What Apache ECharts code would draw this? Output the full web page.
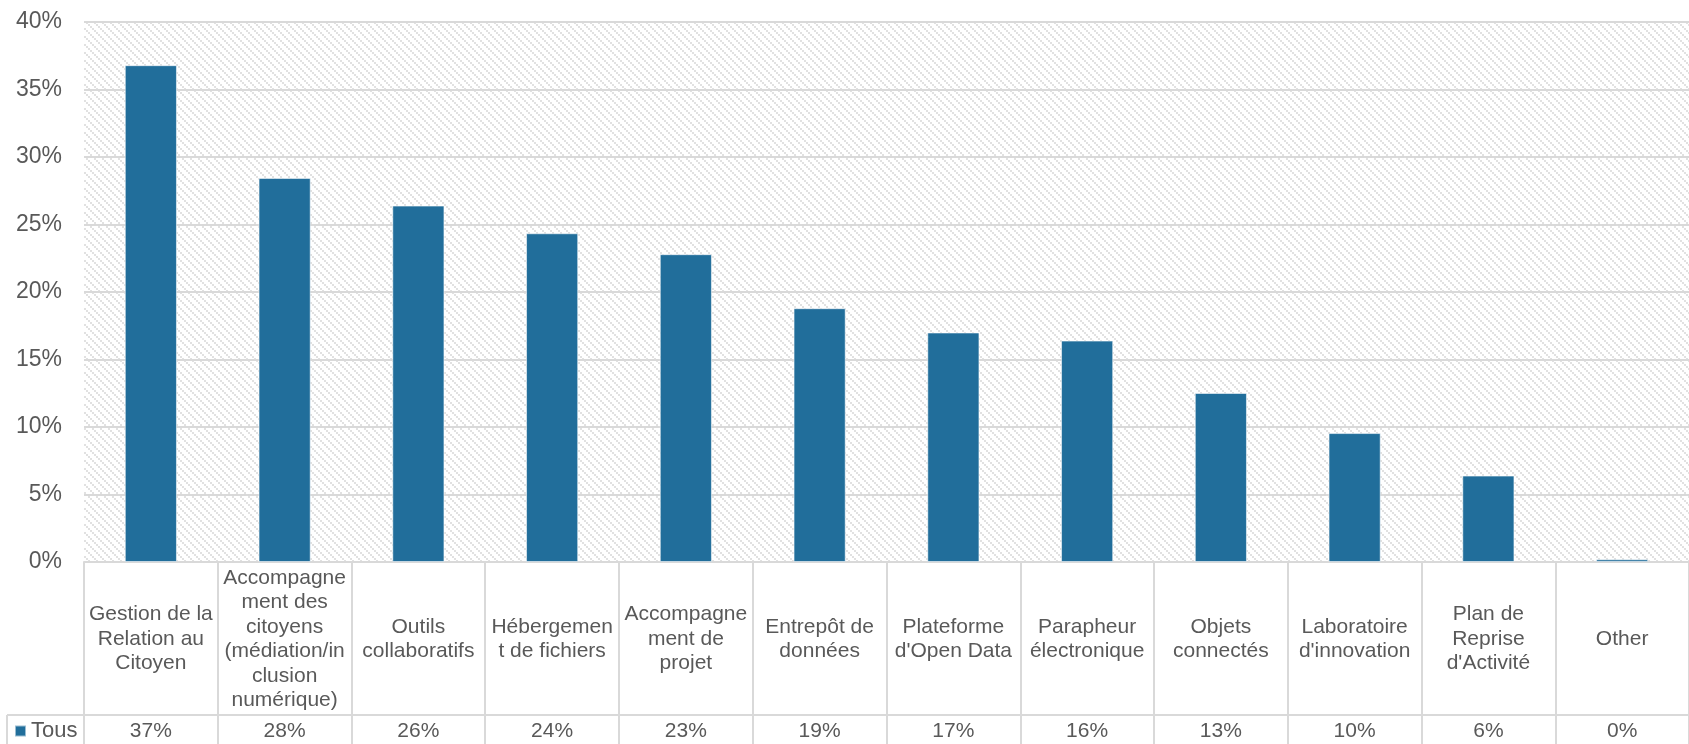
<!DOCTYPE html>
<html>
<head>
<meta charset="utf-8">
<script src="https://cdn.jsdelivr.net/npm/echarts@6/dist/echarts.min.js"></script>
<style>
  html, body { margin: 0; padding: 0; background: #ffffff; }
  #chart { width: 1689px; height: 744px; }
</style>
</head>
<body>
<div id="chart"></div>
<script>
// Category names, wrapped the way they appear in the data table
const categories = [
  'Gestion de la\nRelation au\nCitoyen',
  'Accompagne\nment des\ncitoyens\n(médiation/in\nclusion\nnumérique)',
  'Outils\ncollaboratifs',
  'Hébergemen\nt de fichiers',
  'Accompagne\nment de\nprojet',
  'Entrepôt de\ndonnées',
  'Plateforme\nd\'Open Data',
  'Parapheur\nélectronique',
  'Objets\nconnectés',
  'Laboratoire\nd\'innovation',
  'Plan de\nReprise\nd\'Activité',
  'Other'
];

// Share of respondents (%), series "Tous"
const seriesName = 'Tous';
const tousValues = [36.8, 28.45, 26.4, 24.35, 22.8, 18.8, 17.0, 16.4, 12.52, 9.55, 6.4, 0.2];

// Value axis range
const yMin = 0;
const yMax = 40;
const yStep = 5;

const textColor = '#595959';
const lineColor = '#d9d9d9';
const barColor = '#216e9b';
const fontFamily = '"Liberation Sans", Arial, sans-serif';

// Light downward-diagonal hatch (2px steps) used as the plot background
function makeHatch() {
  const size = 16;
  const c = document.createElement('canvas');
  c.width = size; c.height = size;
  const ctx = c.getContext('2d');
  ctx.fillStyle = '#ffffff';
  ctx.fillRect(0, 0, size, size);
  ctx.fillStyle = '#e1e1e1';
  for (let y = 0; y < size; y += 2) {
    for (let x = 0; x < size; x += 2) {
      const d = ((x / 2 - y / 2) % 4 + 4) % 4;
      if (d === 0) ctx.fillRect(x, y, 2, 2);
    }
  }
  return c;
}

const chart = echarts.init(document.getElementById('chart'), null, { renderer: 'canvas' });

const option = {
  animation: false,
  textStyle: { fontFamily: fontFamily },
  grid: {
    left: 84,
    right: -16,
    top: 22,
    bottom: 182,
    show: true,
    borderWidth: 0,
    backgroundColor: { image: makeHatch(), repeat: 'repeat' }
  },
  legend: {
    data: [seriesName],
    left: 14,
    top: 720,
    padding: 0,
    icon: 'rect',
    itemWidth: 11,
    itemHeight: 11,
    textStyle: { color: textColor, fontSize: 22, fontFamily: fontFamily }
  },
  xAxis: [
    {
      type: 'category',
      data: categories,
      position: 'bottom',
      boundaryGap: true,
      axisLine: { show: true, lineStyle: { color: lineColor, width: 2 } },
      axisTick: { show: true, interval: 0, length: 182, lineStyle: { color: lineColor, width: 2 } },
      axisLabel: {
        interval: 0,
        color: textColor,
        fontSize: 21,
        lineHeight: 24.5,
        fontFamily: fontFamily,
        align: 'center',
        verticalAlign: 'middle',
        margin: 77
      },
      splitLine: { show: false }
    },
    {
      type: 'category',
      data: categories,
      position: 'bottom',
      offset: 153,
      boundaryGap: true,
      axisLine: { show: true, lineStyle: { color: lineColor, width: 2 } },
      axisTick: { show: false },
      axisLabel: {
        interval: 0,
        color: textColor,
        fontSize: 21,
        fontFamily: fontFamily,
        verticalAlign: 'middle',
        margin: 16,
        formatter: function (v, i) { return Math.round(tousValues[i]) + '%'; }
      },
      splitLine: { show: false }
    }
  ],
  yAxis: {
    type: 'value',
    min: yMin,
    max: yMax,
    interval: yStep,
    axisLine: { show: false },
    axisTick: { show: false },
    axisLabel: {
      color: textColor,
      fontSize: 23,
      fontFamily: fontFamily,
      margin: 22,
      formatter: '{value}%'
    },
    splitLine: { show: true, lineStyle: { color: lineColor, width: 2 } }
  },
  // Legend-key cell borders at the left of the data table
  graphic: [
    {
      type: 'line',
      shape: { x1: 7, y1: 715, x2: 84, y2: 715 },
      style: { stroke: lineColor, lineWidth: 2 }
    },
    {
      type: 'line',
      shape: { x1: 7, y1: 715, x2: 7, y2: 744 },
      style: { stroke: lineColor, lineWidth: 2 }
    }
  ],
  series: [
    {
      name: seriesName,
      type: 'bar',
      xAxisIndex: 0,
      data: tousValues,
      barWidth: '39%',
      itemStyle: { color: barColor, borderColor: 'rgba(255,255,255,0.55)', borderWidth: 1 }
    }
  ]
};

chart.setOption(option);
</script>
</body>
</html>
